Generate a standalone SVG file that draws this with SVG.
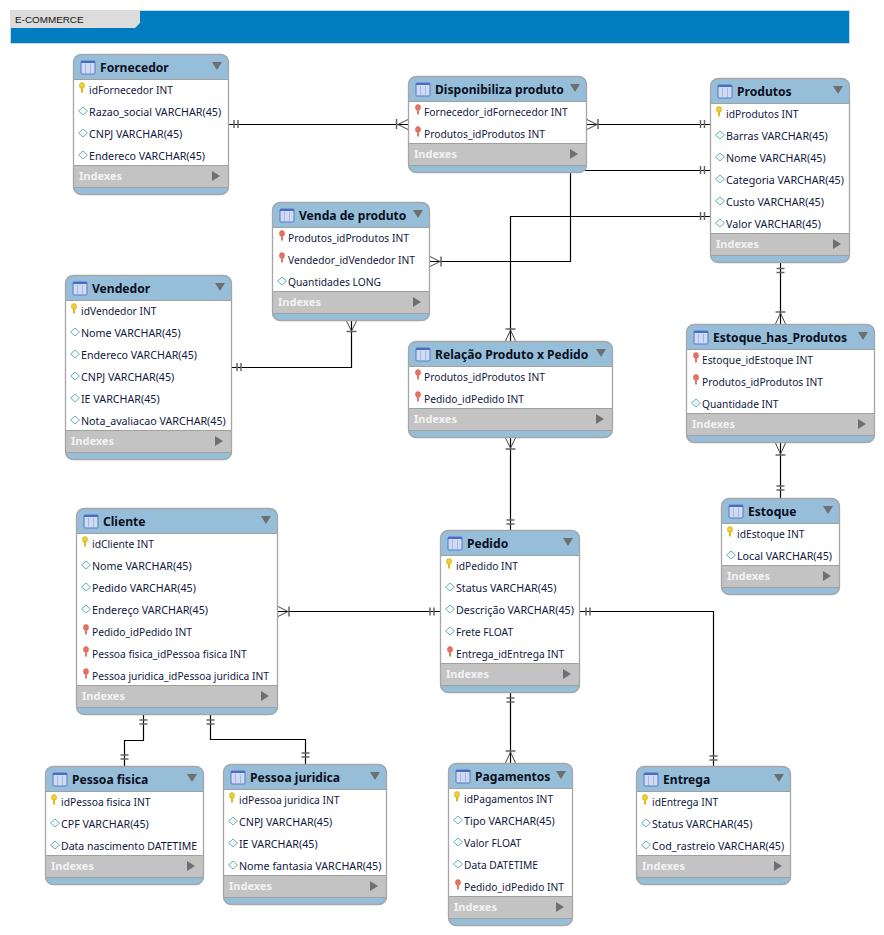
<svg xmlns="http://www.w3.org/2000/svg" width="884" height="935" viewBox="0 0 884 935">
<style>
text{font-family:"Noto Sans","Liberation Sans",sans-serif}
.o{fill:#97bed9;stroke:none}
.e{fill:none;stroke:#a6a6a6;stroke-width:1.3}
.b{fill:#fff}
.x{fill:#c3c3c3}
.s{stroke:#a0a0a0;stroke-width:1;fill:none}
.t{font-size:12.1px;font-weight:700;fill:#0a0f1e}
.c{font-size:10.7px;fill:#101840}
.q{font-size:10.25px;fill:#101840}
.i{font-size:11px;font-weight:700;fill:#f2f2f2}
.a{fill:#6f6f6f}
.l{fill:none;stroke:#000;stroke-width:1.2}
.m{fill:none;stroke:#666;stroke-width:1.5}
.f{fill:none;stroke:#444;stroke-width:1}
</style>
<defs>
<g id="ti"><rect x="0" y="0" width="14" height="13" rx="1" fill="#cfdbf2" stroke="#5578c8" stroke-width="1"/><rect x="0" y="0" width="14" height="2" fill="#4a6cc4"/><path d="M4.500 3V12M9.500 3V12" stroke="#a7b9e2" stroke-width="1"/></g>
<g id="pk"><ellipse cx="0" cy="-2.500" rx="2.600" ry="3" fill="#f0cf30" stroke="#c9a010" stroke-width=".5"/><rect x="-1" y="-.5" width="2" height="5" fill="#e0b820"/></g>
<g id="fk"><ellipse cx="0" cy="-2.500" rx="2.600" ry="3" fill="#e8705e" stroke="#c05040" stroke-width=".4"/><rect x="-1" y="-.5" width="2" height="5" fill="#d88070"/></g>
<path id="dk" d="M0 -4L4.500 0L0 4L-4.500 0Z" fill="#f2fafa" stroke="#6fb0b4" stroke-width="1"/>
<path id="hd" d="M-5 -4H5L0 4Z" class="a"/>
<path id="ar" d="M-4 -5L4 0L-4 5Z" class="a"/>
</defs>

<g id="banner">
<rect x="10.500" y="10.500" width="839" height="33" fill="#007dc1" stroke="#c8d8e4" stroke-width="1"/>
<path d="M10 10H140V23L135 28H10Z" fill="#dcdcdc"/>
<text x="15" y="23" font-size="9.900" style="font-family:'Liberation Sans',sans-serif" fill="#111">E-COMMERCE</text>
</g>

<g id="connectors">
<path class="l" d="M229 124.500H408"/><path class="m" d="M234 120V128M238 120V128M396.500 119V129"/><path class="f" d="M398 124.500L408 119.500M398 124.500L408 129.500"/>
<path class="l" d="M587 124.500H710"/><path class="f" d="M597 124.500L587 119.500M597 124.500L587 129.500"/><path class="m" d="M598 119V129M700.500 120V128M704.500 120V128"/>
<path class="l" d="M585 170.500H710"/><path class="m" d="M700.500 166V174M704.500 166V174"/>
<path class="l" d="M570.500 173V261.500H430"/><path class="f" d="M440 261.500L430 256.500M440 261.500L430 266.500"/><path class="m" d="M441 256.500V266.500"/>
<path class="l" d="M710 216.500H510.500V341"/><path class="m" d="M700.500 212V220M704.500 212V220M505.500 329H515.500"/><path class="f" d="M510.500 330L505.500 341M510.500 330L515.500 341"/>
<path class="l" d="M232 367.500H351.500V321"/><path class="m" d="M237 363V371M241 363V371M346.500 331.500H356.500"/><path class="f" d="M351.500 331L346.500 321M351.500 331L356.500 321"/>
<path class="l" d="M510.500 438V530"/><path class="f" d="M510.500 448L505.500 438M510.500 448L515.500 438"/><path class="m" d="M505.500 449H515.500M506.500 520H514.500M506.500 524H514.500"/>
<path class="l" d="M780.500 263V324"/><path class="m" d="M776.500 268.500H784.500M776.500 272.500H784.500M775.500 312H785.500"/><path class="f" d="M780.500 313L775.500 324M780.500 313L785.500 324"/>
<path class="l" d="M780.500 443V498"/><path class="f" d="M780.500 454L775.500 443M780.500 454L785.500 443"/><path class="m" d="M775.500 455H785.500M776.500 486H784.500M776.500 490H784.500"/>
<path class="l" d="M278 611.500H440"/><path class="f" d="M288 611.500L278 606.500M288 611.500L278 616.500"/><path class="m" d="M289 606.500V616.500M430 607.500V615.500M434 607.500V615.500"/>
<path class="l" d="M510.500 693V763"/><path class="m" d="M506.500 698H514.500M506.500 702H514.500M505.500 751H515.500"/><path class="f" d="M510.500 752L505.500 763M510.500 752L515.500 763"/>
<path class="l" d="M580 611.500H713.500V766"/><path class="m" d="M586 607.500V615.500M590 607.500V615.500M709.500 756H717.500M709.500 760H717.500"/>
<path class="l" d="M143.500 715V740.500H124.500V766"/><path class="m" d="M139.500 720H147.500M139.500 724H147.500M120.500 755H128.500M120.500 759H128.500"/>
<path class="l" d="M210.500 715V739.500H305.500V764"/><path class="m" d="M206.500 720H214.500M206.500 724H214.500M301.500 753H309.500M301.500 757H309.500"/>
</g>

<g id="t-fornecedor">
<rect class="o" x="73" y="54" width="156" height="141" rx="8"/><rect class="b" x="73" y="79" width="156" height="86"/><rect class="x" x="73" y="165" width="156" height="22"/>
<path class="s" d="M73 79.500H229M73 165.500H229M73 187.500H229"/><rect class="e" x="73.500" y="54.500" width="155" height="140" rx="8"/>
<use href="#ti" x="81" y="61"/><text class="t" x="100" y="72">Fornecedor</text><use href="#hd" x="217" y="66"/>
<use href="#pk" x="82" y="88"/><text class="q" x="89" y="94">idFornecedor INT</text>
<use href="#dk" x="83" y="111"/><text class="c" x="89" y="116">Razao_social VARCHAR(45)</text>
<use href="#dk" x="83" y="133"/><text class="c" x="89" y="138">CNPJ VARCHAR(45)</text>
<use href="#dk" x="83" y="155"/><text class="c" x="89" y="160">Endereco VARCHAR(45)</text>
<text class="i" x="79" y="180">Indexes</text><use href="#ar" x="216" y="176"/>
</g>

<g id="t-disponibiliza">
<rect class="o" x="408" y="76" width="179" height="97" rx="8"/><rect class="b" x="408" y="101" width="179" height="42"/><rect class="x" x="408" y="143" width="179" height="22"/>
<path class="s" d="M408 101.500H587M408 143.500H587M408 165.500H587"/><rect class="e" x="408.500" y="76.500" width="178" height="96" rx="8"/>
<use href="#ti" x="416" y="83"/><text class="t" x="435" y="94">Disponibiliza produto</text><use href="#hd" x="575" y="88"/>
<use href="#fk" x="418" y="110"/><text class="q" x="424" y="116">Fornecedor_idFornecedor INT</text>
<use href="#fk" x="418" y="132"/><text class="q" x="424" y="138">Produtos_idProdutos INT</text>
<text class="i" x="414" y="158">Indexes</text><use href="#ar" x="574" y="154"/>
</g>

<g id="t-produtos">
<rect class="o" x="710" y="78" width="140" height="185" rx="8"/><rect class="b" x="710" y="103" width="140" height="130"/><rect class="x" x="710" y="233" width="140" height="22"/>
<path class="s" d="M710 103.500H850M710 233.500H850M710 255.500H850"/><rect class="e" x="710.500" y="78.500" width="139" height="184" rx="8"/>
<use href="#ti" x="718" y="85"/><text class="t" x="737" y="96">Produtos</text><use href="#hd" x="838" y="90"/>
<use href="#pk" x="719" y="112"/><text class="q" x="726" y="118">idProdutos INT</text>
<use href="#dk" x="720" y="135"/><text class="c" x="726" y="140">Barras VARCHAR(45)</text>
<use href="#dk" x="720" y="157"/><text class="c" x="726" y="162">Nome VARCHAR(45)</text>
<use href="#dk" x="720" y="179"/><text class="c" x="726" y="184">Categoria VARCHAR(45)</text>
<use href="#dk" x="720" y="201"/><text class="c" x="726" y="206">Custo VARCHAR(45)</text>
<use href="#dk" x="720" y="223"/><text class="c" x="726" y="228">Valor VARCHAR(45)</text>
<text class="i" x="716" y="248">Indexes</text><use href="#ar" x="837" y="244"/>
</g>

<g id="t-venda">
<rect class="o" x="272" y="202" width="158" height="119" rx="8"/><rect class="b" x="272" y="227" width="158" height="64"/><rect class="x" x="272" y="291" width="158" height="22"/>
<path class="s" d="M272 227.500H430M272 291.500H430M272 313.500H430"/><rect class="e" x="272.500" y="202.500" width="157" height="118" rx="8"/>
<use href="#ti" x="280" y="209"/><text class="t" x="299" y="220">Venda de produto</text><use href="#hd" x="418" y="214"/>
<use href="#fk" x="282" y="236"/><text class="q" x="288" y="242">Produtos_idProdutos INT</text>
<use href="#fk" x="282" y="258"/><text class="q" x="288" y="264">Vendedor_idVendedor INT</text>
<use href="#dk" x="282" y="281"/><text class="q" x="288" y="286">Quantidades LONG</text>
<text class="i" x="278" y="306">Indexes</text><use href="#ar" x="417" y="302"/>
</g>

<g id="t-vendedor">
<rect class="o" x="65" y="275" width="167" height="185" rx="8"/><rect class="b" x="65" y="300" width="167" height="130"/><rect class="x" x="65" y="430" width="167" height="22"/>
<path class="s" d="M65 300.500H232M65 430.500H232M65 452.500H232"/><rect class="e" x="65.500" y="275.500" width="166" height="184" rx="8"/>
<use href="#ti" x="73" y="282"/><text class="t" x="92" y="293">Vendedor</text><use href="#hd" x="220" y="287"/>
<use href="#pk" x="74" y="309"/><text class="q" x="81" y="315">idVendedor INT</text>
<use href="#dk" x="75" y="332"/><text class="c" x="81" y="337">Nome VARCHAR(45)</text>
<use href="#dk" x="75" y="354"/><text class="c" x="81" y="359">Endereco VARCHAR(45)</text>
<use href="#dk" x="75" y="376"/><text class="c" x="81" y="381">CNPJ VARCHAR(45)</text>
<use href="#dk" x="75" y="398"/><text class="c" x="81" y="403">IE VARCHAR(45)</text>
<use href="#dk" x="75" y="420"/><text class="c" x="81" y="425">Nota_avaliacao VARCHAR(45)</text>
<text class="i" x="71" y="445">Indexes</text><use href="#ar" x="219" y="441"/>
</g>

<g id="t-relacao">
<rect class="o" x="408" y="341" width="205" height="97" rx="8"/><rect class="b" x="408" y="366" width="205" height="42"/><rect class="x" x="408" y="408" width="205" height="22"/>
<path class="s" d="M408 366.500H613M408 408.500H613M408 430.500H613"/><rect class="e" x="408.500" y="341.500" width="204" height="96" rx="8"/>
<use href="#ti" x="416" y="348"/><text class="t" x="435" y="359">Relação Produto x Pedido</text><use href="#hd" x="601" y="353"/>
<use href="#fk" x="418" y="375"/><text class="q" x="424" y="381">Produtos_idProdutos INT</text>
<use href="#fk" x="418" y="397"/><text class="q" x="424" y="403">Pedido_idPedido INT</text>
<text class="i" x="414" y="423">Indexes</text><use href="#ar" x="600" y="419"/>
</g>

<g id="t-estoque-has">
<rect class="o" x="686" y="324" width="189" height="119" rx="8"/><rect class="b" x="686" y="349" width="189" height="64"/><rect class="x" x="686" y="413" width="189" height="22"/>
<path class="s" d="M686 349.500H875M686 413.500H875M686 435.500H875"/><rect class="e" x="686.500" y="324.500" width="188" height="118" rx="8"/>
<use href="#ti" x="694" y="331"/><text class="t" x="713" y="342">Estoque_has_Produtos</text><use href="#hd" x="863" y="336"/>
<use href="#fk" x="696" y="358"/><text class="q" x="702" y="364">Estoque_idEstoque INT</text>
<use href="#fk" x="696" y="380"/><text class="q" x="702" y="386">Produtos_idProdutos INT</text>
<use href="#dk" x="696" y="403"/><text class="q" x="702" y="408">Quantidade INT</text>
<text class="i" x="692" y="428">Indexes</text><use href="#ar" x="862" y="424"/>
</g>

<g id="t-estoque">
<rect class="o" x="721" y="498" width="119" height="97" rx="8"/><rect class="b" x="721" y="523" width="119" height="42"/><rect class="x" x="721" y="565" width="119" height="22"/>
<path class="s" d="M721 523.500H840M721 565.500H840M721 587.500H840"/><rect class="e" x="721.500" y="498.500" width="118" height="96" rx="8"/>
<use href="#ti" x="729" y="505"/><text class="t" x="748" y="516">Estoque</text><use href="#hd" x="828" y="510"/>
<use href="#pk" x="730" y="532"/><text class="q" x="737" y="538">idEstoque INT</text>
<use href="#dk" x="731" y="555"/><text class="c" x="737" y="560">Local VARCHAR(45)</text>
<text class="i" x="727" y="580">Indexes</text><use href="#ar" x="827" y="576"/>
</g>

<g id="t-cliente">
<rect class="o" x="76" y="508" width="202" height="207" rx="8"/><rect class="b" x="76" y="533" width="202" height="152"/><rect class="x" x="76" y="685" width="202" height="22"/>
<path class="s" d="M76 533.500H278M76 685.500H278M76 707.500H278"/><rect class="e" x="76.500" y="508.500" width="201" height="206" rx="8"/>
<use href="#ti" x="84" y="515"/><text class="t" x="103" y="526">Cliente</text><use href="#hd" x="266" y="520"/>
<use href="#pk" x="85" y="542"/><text class="q" x="92" y="548">idCliente INT</text>
<use href="#dk" x="86" y="565"/><text class="c" x="92" y="570">Nome VARCHAR(45)</text>
<use href="#dk" x="86" y="587"/><text class="c" x="92" y="592">Pedido VARCHAR(45)</text>
<use href="#dk" x="86" y="609"/><text class="c" x="92" y="614">Endereço VARCHAR(45)</text>
<use href="#fk" x="86" y="630"/><text class="q" x="92" y="636">Pedido_idPedido INT</text>
<use href="#fk" x="86" y="652"/><text class="q" x="92" y="658">Pessoa fisica_idPessoa fisica INT</text>
<use href="#fk" x="86" y="674"/><text class="q" x="92" y="680">Pessoa juridica_idPessoa juridica INT</text>
<text class="i" x="82" y="700">Indexes</text><use href="#ar" x="265" y="696"/>
</g>

<g id="t-pedido">
<rect class="o" x="440" y="530" width="140" height="163" rx="8"/><rect class="b" x="440" y="555" width="140" height="108"/><rect class="x" x="440" y="663" width="140" height="22"/>
<path class="s" d="M440 555.500H580M440 663.500H580M440 685.500H580"/><rect class="e" x="440.500" y="530.500" width="139" height="162" rx="8"/>
<use href="#ti" x="448" y="537"/><text class="t" x="467" y="548">Pedido</text><use href="#hd" x="568" y="542"/>
<use href="#pk" x="449" y="564"/><text class="q" x="456" y="570">idPedido INT</text>
<use href="#dk" x="450" y="587"/><text class="c" x="456" y="592">Status VARCHAR(45)</text>
<use href="#dk" x="450" y="609"/><text class="c" x="456" y="614">Descrição VARCHAR(45)</text>
<use href="#dk" x="450" y="631"/><text class="q" x="456" y="636">Frete FLOAT</text>
<use href="#fk" x="450" y="652"/><text class="q" x="456" y="658">Entrega_idEntrega INT</text>
<text class="i" x="446" y="678">Indexes</text><use href="#ar" x="567" y="674"/>
</g>

<g id="t-pessoa-fisica">
<rect class="o" x="45" y="766" width="159" height="119" rx="8"/><rect class="b" x="45" y="791" width="159" height="64"/><rect class="x" x="45" y="855" width="159" height="22"/>
<path class="s" d="M45 791.500H204M45 855.500H204M45 877.500H204"/><rect class="e" x="45.500" y="766.500" width="158" height="118" rx="8"/>
<use href="#ti" x="53" y="773"/><text class="t" x="72" y="784">Pessoa fisica</text><use href="#hd" x="192" y="778"/>
<use href="#pk" x="54" y="800"/><text class="q" x="61" y="806">idPessoa fisica INT</text>
<use href="#dk" x="55" y="823"/><text class="c" x="61" y="828">CPF VARCHAR(45)</text>
<use href="#dk" x="55" y="845"/><text class="q" x="61" y="850" style="font-size:10.5px">Data nascimento DATETIME</text>
<text class="i" x="51" y="870">Indexes</text><use href="#ar" x="191" y="866"/>
</g>

<g id="t-pessoa-juridica">
<rect class="o" x="223" y="764" width="164" height="141" rx="8"/><rect class="b" x="223" y="789" width="164" height="86"/><rect class="x" x="223" y="875" width="164" height="22"/>
<path class="s" d="M223 789.500H387M223 875.500H387M223 897.500H387"/><rect class="e" x="223.500" y="764.500" width="163" height="140" rx="8"/>
<use href="#ti" x="231" y="771"/><text class="t" x="250" y="782">Pessoa juridica</text><use href="#hd" x="375" y="776"/>
<use href="#pk" x="232" y="798"/><text class="q" x="239" y="804">idPessoa juridica INT</text>
<use href="#dk" x="233" y="821"/><text class="c" x="239" y="826">CNPJ VARCHAR(45)</text>
<use href="#dk" x="233" y="843"/><text class="c" x="239" y="848">IE VARCHAR(45)</text>
<use href="#dk" x="233" y="865"/><text class="c" x="239" y="870">Nome fantasia VARCHAR(45)</text>
<text class="i" x="229" y="890">Indexes</text><use href="#ar" x="374" y="886"/>
</g>

<g id="t-pagamentos">
<rect class="o" x="448" y="763" width="125" height="163" rx="8"/><rect class="b" x="448" y="788" width="125" height="108"/><rect class="x" x="448" y="896" width="125" height="22"/>
<path class="s" d="M448 788.500H573M448 896.500H573M448 918.500H573"/><rect class="e" x="448.500" y="763.500" width="124" height="162" rx="8"/>
<use href="#ti" x="456" y="770"/><text class="t" x="475" y="781">Pagamentos</text><use href="#hd" x="561" y="775"/>
<use href="#pk" x="457" y="797"/><text class="q" x="464" y="803">idPagamentos INT</text>
<use href="#dk" x="458" y="820"/><text class="c" x="464" y="825">Tipo VARCHAR(45)</text>
<use href="#dk" x="458" y="842"/><text class="q" x="464" y="847">Valor FLOAT</text>
<use href="#dk" x="458" y="864"/><text class="q" x="464" y="869">Data DATETIME</text>
<use href="#fk" x="458" y="885"/><text class="q" x="464" y="891">Pedido_idPedido INT</text>
<text class="i" x="454" y="911">Indexes</text><use href="#ar" x="560" y="907"/>
</g>

<g id="t-entrega">
<rect class="o" x="636" y="766" width="155" height="119" rx="8"/><rect class="b" x="636" y="791" width="155" height="64"/><rect class="x" x="636" y="855" width="155" height="22"/>
<path class="s" d="M636 791.500H791M636 855.500H791M636 877.500H791"/><rect class="e" x="636.500" y="766.500" width="154" height="118" rx="8"/>
<use href="#ti" x="644" y="773"/><text class="t" x="663" y="784">Entrega</text><use href="#hd" x="779" y="778"/>
<use href="#pk" x="645" y="800"/><text class="q" x="652" y="806">idEntrega INT</text>
<use href="#dk" x="646" y="823"/><text class="c" x="652" y="828">Status VARCHAR(45)</text>
<use href="#dk" x="646" y="845"/><text class="c" x="652" y="850">Cod_rastreio VARCHAR(45)</text>
<text class="i" x="642" y="870">Indexes</text><use href="#ar" x="778" y="866"/>
</g>
</svg>
